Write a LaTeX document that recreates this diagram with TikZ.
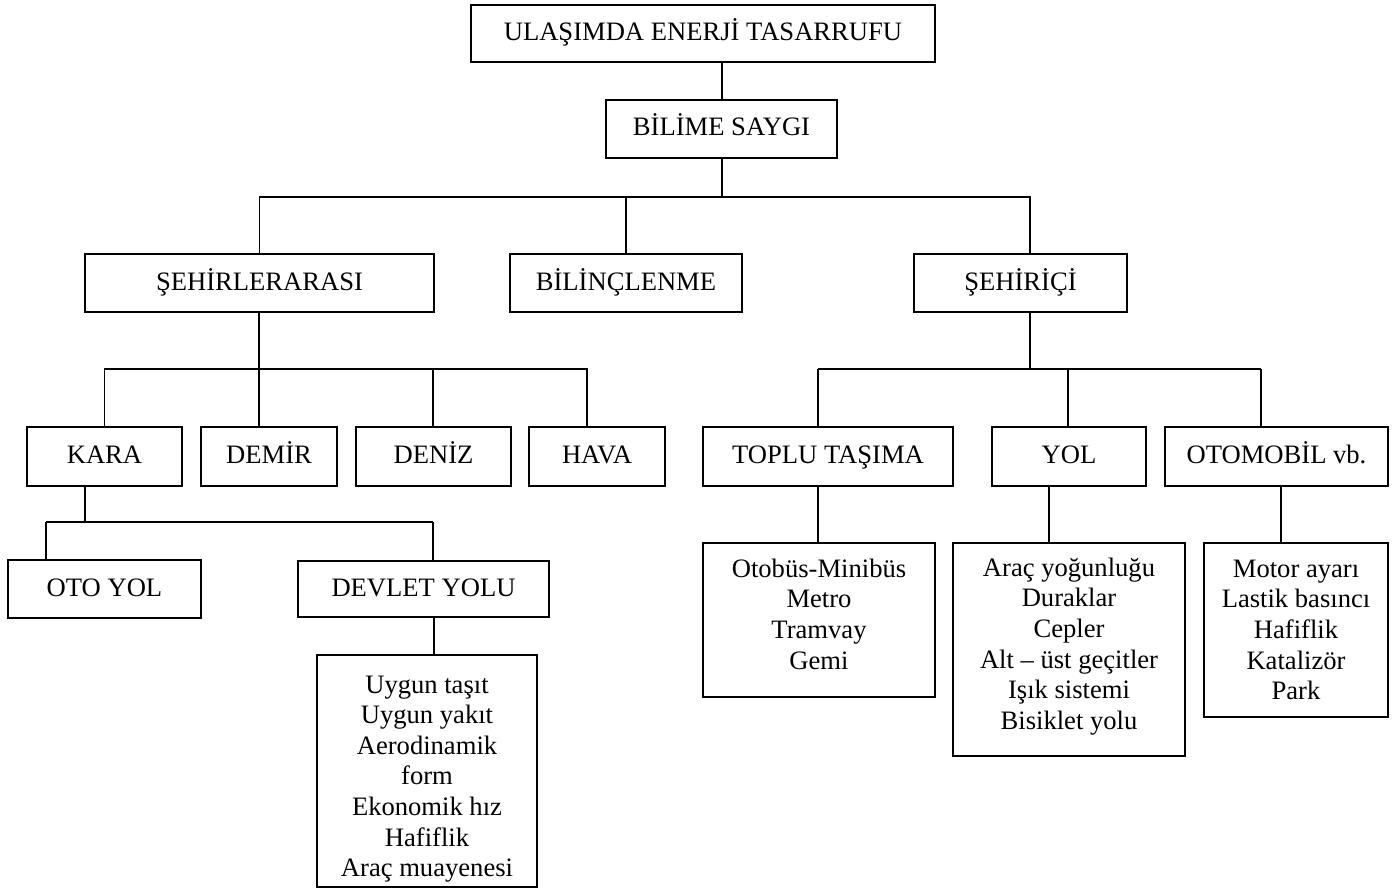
\documentclass[tikz,border=0pt]{standalone}
\usepackage{fontspec}
\setmainfont{Liberation Serif}
\begin{document}
\begin{tikzpicture}[x=0.5pt,y=-0.5pt,
  bx/.style={draw,line width=0.9pt,inner sep=0pt,align=center,font=\fontsize{13.3}{15.3}\selectfont},
  one/.style={bx,text height=9.6pt,text depth=2.6pt},
  txt/.style={inner sep=0pt,align=center,font=\fontsize{13.3}{15.3}\selectfont},
  ln/.style={line width=0.9pt}]
\useasboundingbox (0,0) rectangle (1395,893);
% level 0/1
\node[one,minimum width=232pt,minimum height=28.5pt] (top) at (703,33.5) {ULAŞIMDA ENERJİ TASARRUFU};
\node[one,minimum width=115.5pt,minimum height=29pt] (bilime) at (721.5,129) {BİLİME SAYGI};
% level 2
\node[one,minimum width=174.5pt,minimum height=29pt] (sehirler) at (259.5,283) {ŞEHİRLERARASI};
\node[one,minimum width=116pt,minimum height=29pt] (bilinc) at (626,283) {BİLİNÇLENME};
\node[one,minimum width=106.5pt,minimum height=29pt] (sehirici) at (1020.5,283) {ŞEHİRİÇİ};
% level 3
\node[one,minimum width=77.5pt,minimum height=29.5pt] (kara) at (104.5,456.5) {KARA};
\node[one,minimum width=68pt,minimum height=29.5pt] (demir) at (269,456.5) {DEMİR};
\node[one,minimum width=77.5pt,minimum height=29.5pt] (deniz) at (433.5,456.5) {DENİZ};
\node[one,minimum width=68pt,minimum height=29.5pt] (hava) at (597,456.5) {HAVA};
\node[one,minimum width=125pt,minimum height=29.5pt] (toplu) at (828,456.5) {TOPLU TAŞIMA};
\node[one,minimum width=77pt,minimum height=29.5pt] (yol) at (1069,456.5) {YOL};
\node[one,minimum width=111.5pt,minimum height=29.5pt] (oto) at (1276.5,456.5) {OTOMOBİL vb.};
% level 4
\node[one,minimum width=96.5pt,minimum height=29pt] (otoyol) at (104.5,589) {OTO YOL};
\node[one,minimum width=125.5pt,minimum height=28pt] (devlet) at (423.5,589) {DEVLET YOLU};
% detail boxes (frame + text)
\node[bx,minimum width=110pt,minimum height=116pt] (dsub) at (427,771) {};
\node[txt] (dsubT) at (427,779) {Uygun taşıt\\Uygun yakıt\\Aerodinamik\\form\\Ekonomik hız\\Hafiflik\\Araç muayenesi};
\node[bx,minimum width=116pt,minimum height=77pt] (tsub) at (819,620) {};
\node[txt] (tsubT) at (819,614) {Otobüs-Minibüs\\Metro\\Tramvay\\Gemi};
\node[bx,minimum width=116pt,minimum height=106.5pt] (ysub) at (1069,649.5) {};
\node[txt] (ysubT) at (1069,646.5) {Araç yoğunluğu\\Duraklar\\Cepler\\Alt -- üst geçitler\\Işık sistemi\\Bisiklet yolu};
\node[bx,minimum width=92pt,minimum height=87pt] (osub) at (1296,630) {};
\node[txt] (osubT) at (1296,630) {Motor ayarı\\Lastik basıncı\\Hafiflik\\Katalizör\\Park};
% junction coordinates
\coordinate (bus1) at (722,197);
\coordinate (xSi) at (1030,197);
\coordinate (bus2) at (259,369);
\coordinate (pDemir) at (259,369);
\coordinate (pDeniz) at (433,369);
\coordinate (pHava) at (587,369);
\coordinate (bus3) at (1030,369);
\coordinate (pToplu) at (818,369);
\coordinate (pYol) at (1068,369);
\coordinate (pOto) at (1261,369);
\coordinate (bus4) at (85,522);
\coordinate (pOtoyol) at (46,522);
\coordinate (pDevlet) at (433,522);
\coordinate (xDs) at (434,0);
\coordinate (xTs) at (818,0);
\coordinate (xYs) at (1049,0);
\coordinate (xOs) at (1281,0);
% connectors
\draw[ln] (top.south -| bus1) -- (bilime.north -| bus1);
\draw[ln] (bilime.south -| bus1) -- (bus1);
\draw[ln] (sehirler.north) |- (bus1) -- (xSi) -- (sehirici.north -| xSi);
\draw[ln] (bilinc.north) -- (bilinc.north |- bus1);
\draw[ln] (sehirler.south -| bus2) -- (bus2);
\draw[ln] (kara.north) |- (pHava) -- (hava.north -| pHava);
\draw[ln] (pDemir) -- (demir.north -| pDemir);
\draw[ln] (pDeniz) -- (deniz.north -| pDeniz);
\draw[ln] (sehirici.south -| bus3) -- (bus3);
\draw[ln] (pToplu) -- (pOto);
\draw[ln] (pToplu) -- (toplu.north -| pToplu);
\draw[ln] (pYol) -- (yol.north -| pYol);
\draw[ln] (pOto) -- (oto.north -| pOto);
\draw[ln] (kara.south -| bus4) -- (bus4);
\draw[ln] (pOtoyol) -- (pDevlet);
\draw[ln] (pOtoyol) -- (otoyol.north -| pOtoyol);
\draw[ln] (pDevlet) -- (devlet.north -| pDevlet);
\draw[ln] (devlet.south -| xDs) -- (dsub.north -| xDs);
\draw[ln] (toplu.south -| xTs) -- (tsub.north -| xTs);
\draw[ln] (yol.south -| xYs) -- (ysub.north -| xYs);
\draw[ln] (oto.south -| xOs) -- (osub.north -| xOs);
\end{tikzpicture}
\end{document}
